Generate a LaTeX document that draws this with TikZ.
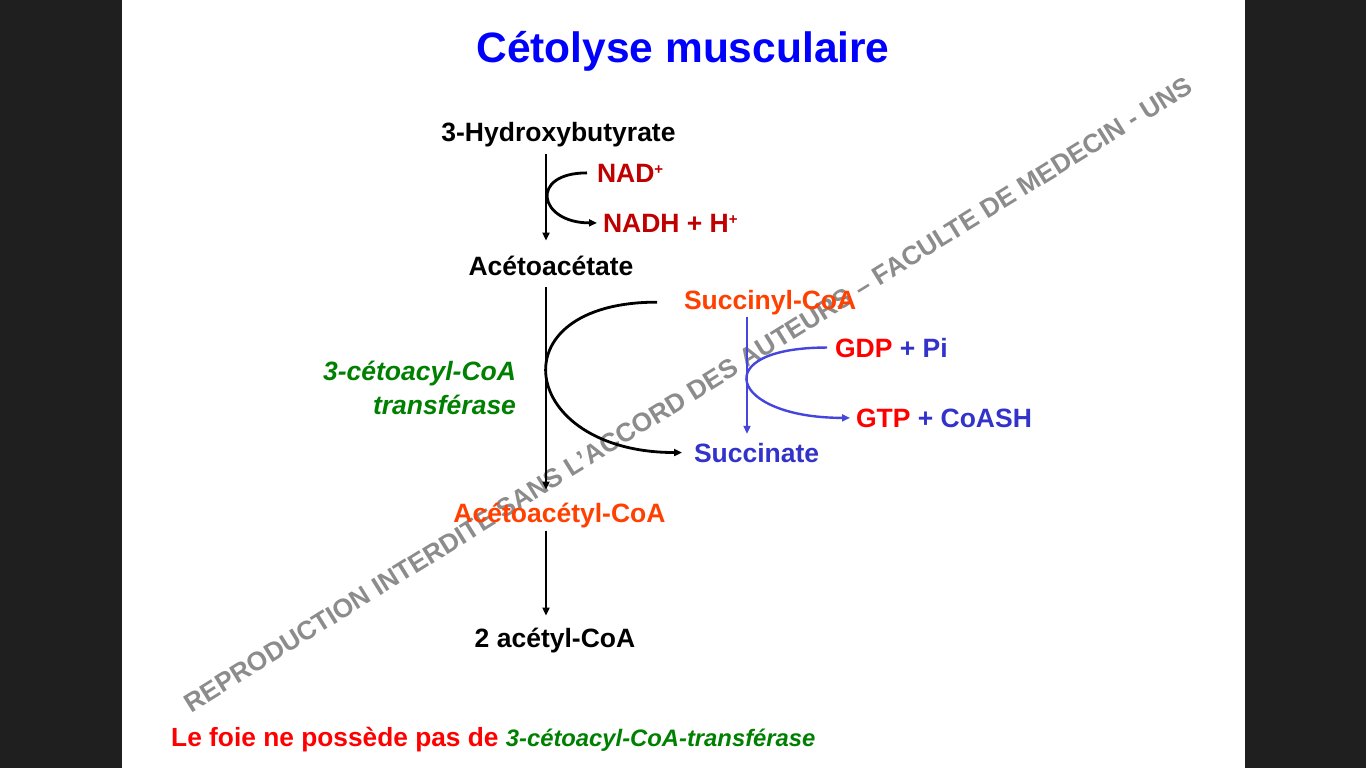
\documentclass[tikz,border=0pt]{standalone}
\usepackage{fontspec}
\setmainfont{Liberation Sans}
\usetikzlibrary{arrows.meta}

\definecolor{slidebg}{HTML}{1F1F1F}
\definecolor{titleblue}{HTML}{0000FF}
\definecolor{nadred}{HTML}{C00000}
\definecolor{coaorange}{HTML}{FF4000}
\definecolor{succblue}{HTML}{3333CC}
\definecolor{arrowblue}{HTML}{4545DD}
\definecolor{gtpred}{HTML}{FF0000}
\definecolor{enzgreen}{HTML}{008000}
\definecolor{wmgray}{HTML}{8C8C8C}

\newcommand{\plusexp}{\raisebox{8pt}{\fontsize{15}{15}\selectfont +}}

\tikzset{
  metab/.style={inner sep=0pt, outer sep=0pt, font=\fontsize{26.5}{32}\selectfont\bfseries},
  enzyme/.style={inner sep=0pt, outer sep=0pt, align=right, text=enzgreen,
    font=\fontsize{26.5}{34}\selectfont\bfseries\itshape},
  flow/.style={line width=2.4pt, -{Triangle[length=8pt,width=7pt]}},
  cofactor/.style={line width=2.8pt, -{Triangle[length=8pt,width=7pt]}},
  bflow/.style={line width=2.4pt, arrowblue, -{Triangle[length=8pt,width=7pt]}}
}

\begin{document}
\begin{tikzpicture}[x=1pt,y=-1pt]
  \useasboundingbox (0,0) rectangle (1366,768);
  \fill[slidebg] (0,0) rectangle (1366,768);
  \fill[white] (122,0) rectangle (1245,768);

  % filigrane
  \node[inner sep=0pt, rotate=31.8, text=wmgray, font=\fontsize{26.3}{30}\selectfont\bfseries] (wmark)
    at (688.5,394.4) {REPRODUCTION INTERDITE SANS L’ACCORD DES AUTEURS – FACULTE DE MEDECIN - UNS};

  \node[anchor=base, text=titleblue, font=\fontsize{42.5}{50}\selectfont\bfseries] (title)
    at (683,63) {Cétolyse musculaire};

  % voie principale
  \node[metab, anchor=base] (hbut) at (558.5,141) {3-Hydroxybutyrate};
  \node[metab, anchor=base] (aca) at (551,275) {Acétoacétate};
  \node[metab, anchor=base, text=coaorange] (acacoa) at (559.5,522) {Acétoacétyl-CoA};
  \node[metab, anchor=base] (acoa) at (555,647) {2 acétyl-CoA};

  \node[metab, anchor=base west, text=nadred] (nad) at (597,182) {NAD\plusexp};
  \node[metab, anchor=base west, text=nadred] (nadh) at (603,232) {NADH + H\plusexp};

  \node[metab, anchor=base west, text=coaorange] (succoa) at (684,309) {Succinyl-CoA};
  \node[metab, anchor=base west, text=succblue] (succ) at (694,462) {Succinate};
  \node[metab, anchor=base west] (gdp) at (835,357) {\textcolor{gtpred}{GDP} \textcolor{succblue}{+ Pi}};
  \node[metab, anchor=base west] (gtp) at (856,427) {\textcolor{gtpred}{GTP} \textcolor{succblue}{+ CoASH}};

  \node[enzyme, anchor=east] (enz) at (516,388) {3-cétoacyl-CoA\\transférase};

  \coordinate (axis) at (546,0);
  \coordinate (baxis) at (747,0);

  \draw[flow, shorten <=8pt, shorten >=15pt] (hbut.south -| axis) -- (aca.north -| axis);
  \draw[flow, shorten <=12pt, shorten >=13pt] (aca.south -| axis) -- (acacoa.north -| axis);
  \draw[flow, shorten <=3pt, shorten >=12pt] (acacoa.south -| axis) -- (acoa.north -| axis);

  \draw[cofactor] ([xshift=-10]nad.west) to[out=180,in=180,looseness=2.94] ([xshift=-6]nadh.west);
  \draw[cofactor] ([xshift=-27]succoa.west) to[out=180,in=180,looseness=2.74] ([xshift=-12]succ.west);

  \draw[bflow, shorten <=2pt, shorten >=9pt] (succoa.south -| baxis) -- (succ.north -| baxis);
  \draw[bflow] ([xshift=-8]gdp.west) to[out=180,in=180,looseness=4.18] ([xshift=-6]gtp.west);

  \node[anchor=base west, inner sep=0pt] (note) at (171,746)
    {\textcolor{gtpred}{\fontsize{26.3}{30}\selectfont\bfseries Le foie ne possède pas de\ }%
     \textcolor{enzgreen}{\fontsize{23.8}{28}\selectfont\bfseries\itshape 3-cétoacyl-CoA-transférase}};
\end{tikzpicture}
\end{document}
